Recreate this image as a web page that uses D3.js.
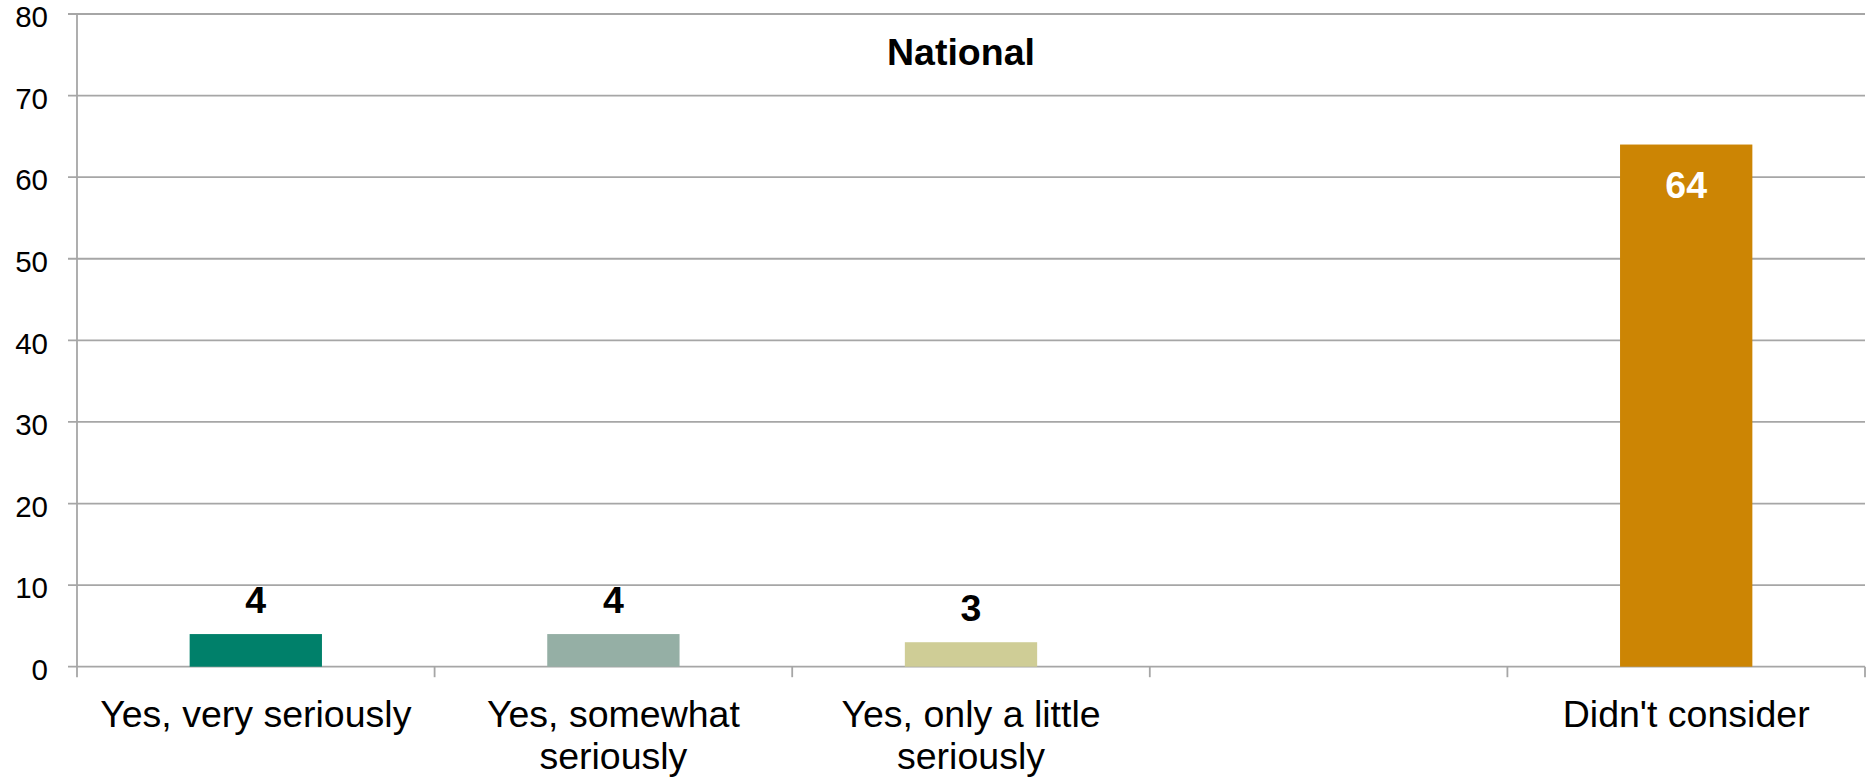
<!DOCTYPE html>
<html><head><meta charset="utf-8">
<script src="https://cdn.jsdelivr.net/npm/d3@7"></script>
<style>
html,body{margin:0;padding:0;background:#fff;}
svg{display:block;font-family:"Liberation Sans",Arial,sans-serif;}
</style></head>
<body>
<script>
const categories = ["Yes, very seriously", "Yes, somewhat seriously", "Yes, only a little seriously", "", "Didn't consider"];
const labelLines = [["Yes, very seriously"], ["Yes, somewhat", "seriously"], ["Yes, only a little", "seriously"], [], ["Didn't consider"]];
const values = [4, 4, 3, null, 64];
const colors = ["#00806a", "#95afa5", "#cfcd96", "#ffffff", "#cc8504"];
const yTicks = [0, 10, 20, 30, 40, 50, 60, 70, 80];
const chartTitle = "National";

(function () {
const W = 1868, H = 777;
const mLeft = 77, mRight = 1865, mTop = 14, mBottom = 666.7;
const grid = "#a6a6a6";
const fs = 37.5;

const svg = d3.select("body").append("svg").attr("width", W).attr("height", H);

const idx = categories.map((c, i) => i);
const x = d3.scaleBand().domain(idx).range([mLeft, mRight])
  .paddingInner(0.63).paddingOuter(0.315);
const xt = d3.scaleBand().domain(idx).range([mLeft, mRight]).padding(0);
const y = d3.scaleLinear().domain([0, 80]).range([mBottom, mTop]);

// gridlines
svg.append("g").selectAll("line").data(yTicks).join("line")
  .attr("x1", mLeft - 9).attr("x2", mRight)
  .attr("y1", d => y(d)).attr("y2", d => y(d))
  .attr("stroke", grid).attr("stroke-width", 1.8);

// y axis line
svg.append("line").attr("x1", mLeft).attr("x2", mLeft).attr("y1", mTop).attr("y2", mBottom + 10.5)
  .attr("stroke", grid).attr("stroke-width", 1.8);

// x tick marks
const bounds = idx.map(i => xt(i) + xt.step());
svg.append("g").selectAll("line").data(bounds).join("line")
  .attr("x1", d => d).attr("x2", d => d)
  .attr("y1", mBottom).attr("y2", mBottom + 10.5)
  .attr("stroke", grid).attr("stroke-width", 1.8);

// y tick labels
svg.append("g").selectAll("text").data(yTicks).join("text")
  .attr("x", 48).attr("y", d => y(d)).attr("dy", "0.45em")
  .attr("text-anchor", "end").attr("font-size", 29.5).attr("fill", "#000")
  .text(d => d);

// bars
const data = idx.map(i => ({i, v: values[i], color: colors[i]})).filter(d => d.v != null);
svg.append("g").selectAll("rect").data(data).join("rect")
  .attr("x", d => x(d.i)).attr("width", x.bandwidth())
  .attr("y", d => y(d.v)).attr("height", d => y(0) - y(d.v))
  .attr("fill", d => d.color);

// value labels
svg.append("g").selectAll("text").data(data).join("text")
  .attr("x", d => x(d.i) + x.bandwidth() / 2)
  .attr("y", d => d.v > 20 ? y(d.v) + 53 : y(d.v) - 21.5)
  .attr("text-anchor", "middle").attr("font-size", fs).attr("font-weight", "bold")
  .attr("fill", d => d.v > 20 ? "#fff" : "#000")
  .text(d => d.v);

// category labels
const cl = svg.append("g").selectAll("text").data(labelLines).join("text")
  .attr("text-anchor", "middle").attr("font-size", fs).attr("fill", "#000");
cl.each(function(lines, i) {
  const t = d3.select(this);
  lines.forEach((ln, j) => {
    t.append("tspan").attr("x", xt(i) + xt.step() / 2).attr("y", 727 + j * 41.5).text(ln);
  });
});

// title
svg.append("text").attr("x", 961).attr("y", 65).attr("text-anchor", "middle")
  .attr("font-size", fs).attr("font-weight", "bold").attr("fill", "#000").text(chartTitle);
})();
</script>
</body></html>
